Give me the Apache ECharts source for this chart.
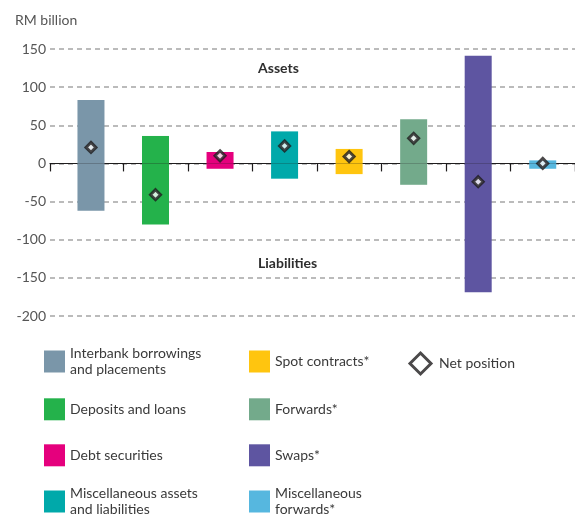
<!DOCTYPE html>
<html>
<head>
<meta charset="utf-8">
<script src="https://cdn.jsdelivr.net/npm/echarts@6/dist/echarts.min.js"></script>
<style>
  html, body { margin: 0; padding: 0; background: #fff; }
  #chart { width: 575px; height: 519px; }
</style>
</head>
<body>
<div id="chart"></div>
<script>
// Foreign currency positions by instrument (RM billion)
const categories = [
  'Interbank borrowings and placements',
  'Deposits and loans',
  'Debt securities',
  'Miscellaneous assets and liabilities',
  'Spot contracts*',
  'Forwards*',
  'Swaps*',
  'Miscellaneous forwards*'
];
const legendLabels = [
  'Interbank borrowings\nand placements',
  'Deposits and loans',
  'Debt securities',
  'Miscellaneous assets\nand liabilities',
  'Spot contracts*',
  'Forwards*',
  'Swaps*',
  'Miscellaneous\nforwards*'
];
const assets      = [83, 36, 15, 42, 19, 58, 141, 4];
const liabilities = [-62, -80, -7, -20, -14, -28, -169, -7];
const netPosition = [21, -41, 10, 23, 9, 33, -24, 0];
const yMin = -200, yMax = 150, yStep = 50;

const colors = ['#7A96A9', '#24B24B', '#E5007D', '#00A9AA', '#FFC50F', '#73AA8B', '#5E55A1', '#56B7DF'];
const FONT = 'Lato, "Open Sans", sans-serif';
const TEXT = '#3A3A3A';
const INK = '#1E1C1D';

const chart = echarts.init(document.getElementById('chart'), null, { renderer: 'canvas' });

const barSeries = [];
categories.forEach((name, i) => {
  [assets, liabilities].forEach(src => {
    barSeries.push({
      type: 'bar',
      name: name,
      xAxisIndex: 1,
      yAxisIndex: 1,
      stack: 'position',
      barWidth: 27,
      itemStyle: { color: colors[i] },
      emphasis: { disabled: true },
      data: src.map((v, j) => (j === i ? v : '-'))
    });
  });
});

// legend layout: two columns of swatches plus one for the net marker
const rowCenters = [361.5, 409.3, 455.3, 501.5];
const legends = categories.map((name, i) => {
  const col = i < 4 ? 0 : 1;
  const row = i % 4;
  const twoLine = legendLabels[i].indexOf('\n') >= 0;
  return {
    data: [name],
    left: col === 0 ? 44 : 249,
    top: rowCenters[row] - (twoLine ? 16 : 11),
    padding: 0,
    icon: 'rect',
    itemWidth: 21,
    itemHeight: 22,
    selectedMode: false,
    formatter: () => legendLabels[i],
    textStyle: { fontFamily: FONT, fontSize: 14, lineHeight: 16, color: TEXT }
  };
});
legends.push({
  data: ['Net position'],
  left: 408.5,
  top: 362 - 10.5,
  padding: 0,
  icon: 'diamond',
  itemWidth: 21,
  itemHeight: 21,
  selectedMode: false,
  itemStyle: { color: '#fff', borderColor: INK, borderWidth: 3 },
  textStyle: { fontFamily: FONT, fontSize: 14, color: TEXT, padding: [0, 0, 0, 3] }
});

const option = {
  animation: false,
  backgroundColor: '#fff',
  title: {
    text: 'RM billion',
    left: 15,
    top: 13,
    padding: 0,
    textStyle: { fontFamily: FONT, fontSize: 14, fontWeight: 'normal', color: '#555' }
  },
  legend: legends,
  grid: [
    { left: 50, right: -1, top: 49, bottom: 203 },
    { left: 58.7, right: -9.3, top: 49, bottom: 203 }
  ],
  xAxis: [
    {
      gridIndex: 0,
      type: 'value',
      min: 0, max: 1, interval: 1,
      axisLine: { show: true, onZero: true, lineStyle: { color: INK, width: 1.2 } },
      axisTick: { show: true, length: 8, lineStyle: { color: INK, width: 1.2 } },
      axisLabel: { show: false },
      splitLine: { show: false }
    },
    {
      gridIndex: 1,
      type: 'category',
      data: categories,
      axisLine: { show: true, onZero: true, lineStyle: { color: INK, width: 1.2 } },
      axisTick: { show: true, length: 8, interval: (idx) => idx !== 0, lineStyle: { color: INK, width: 1.2 } },
      axisLabel: { show: false },
      splitLine: { show: false }
    }
  ],
  yAxis: [
    {
      gridIndex: 0,
      type: 'value',
      min: yMin, max: yMax, interval: yStep,
      axisLine: { show: false },
      axisTick: { show: false },
      axisLabel: { fontFamily: FONT, fontSize: 14, color: '#555', margin: 4 },
      splitLine: { show: true, lineStyle: { color: '#A5A5A5', width: 1.5, type: [5, 4] } }
    },
    {
      gridIndex: 1,
      type: 'value',
      min: yMin, max: yMax, interval: yStep,
      show: false,
      splitLine: { show: false }
    }
  ],
  graphic: [
    { type: 'text', x: 258, y: 68, style: { text: 'Assets', font: 'bold 14px ' + FONT, fill: '#2E2E2E', verticalAlign: 'middle' } },
    { type: 'text', x: 258, y: 263, style: { text: 'Liabilities', font: 'bold 14px ' + FONT, fill: '#2E2E2E', verticalAlign: 'middle' } }
  ],
  series: barSeries.concat([{
    type: 'scatter',
    name: 'Net position',
    xAxisIndex: 1,
    yAxisIndex: 1,
    symbol: 'diamond',
    symbolSize: 10,
    z: 10,
    itemStyle: { color: '#fff', borderColor: INK, borderWidth: 3 },
    emphasis: { disabled: true },
    data: netPosition
  }])
};

chart.setOption(option);
</script>
</body>
</html>
